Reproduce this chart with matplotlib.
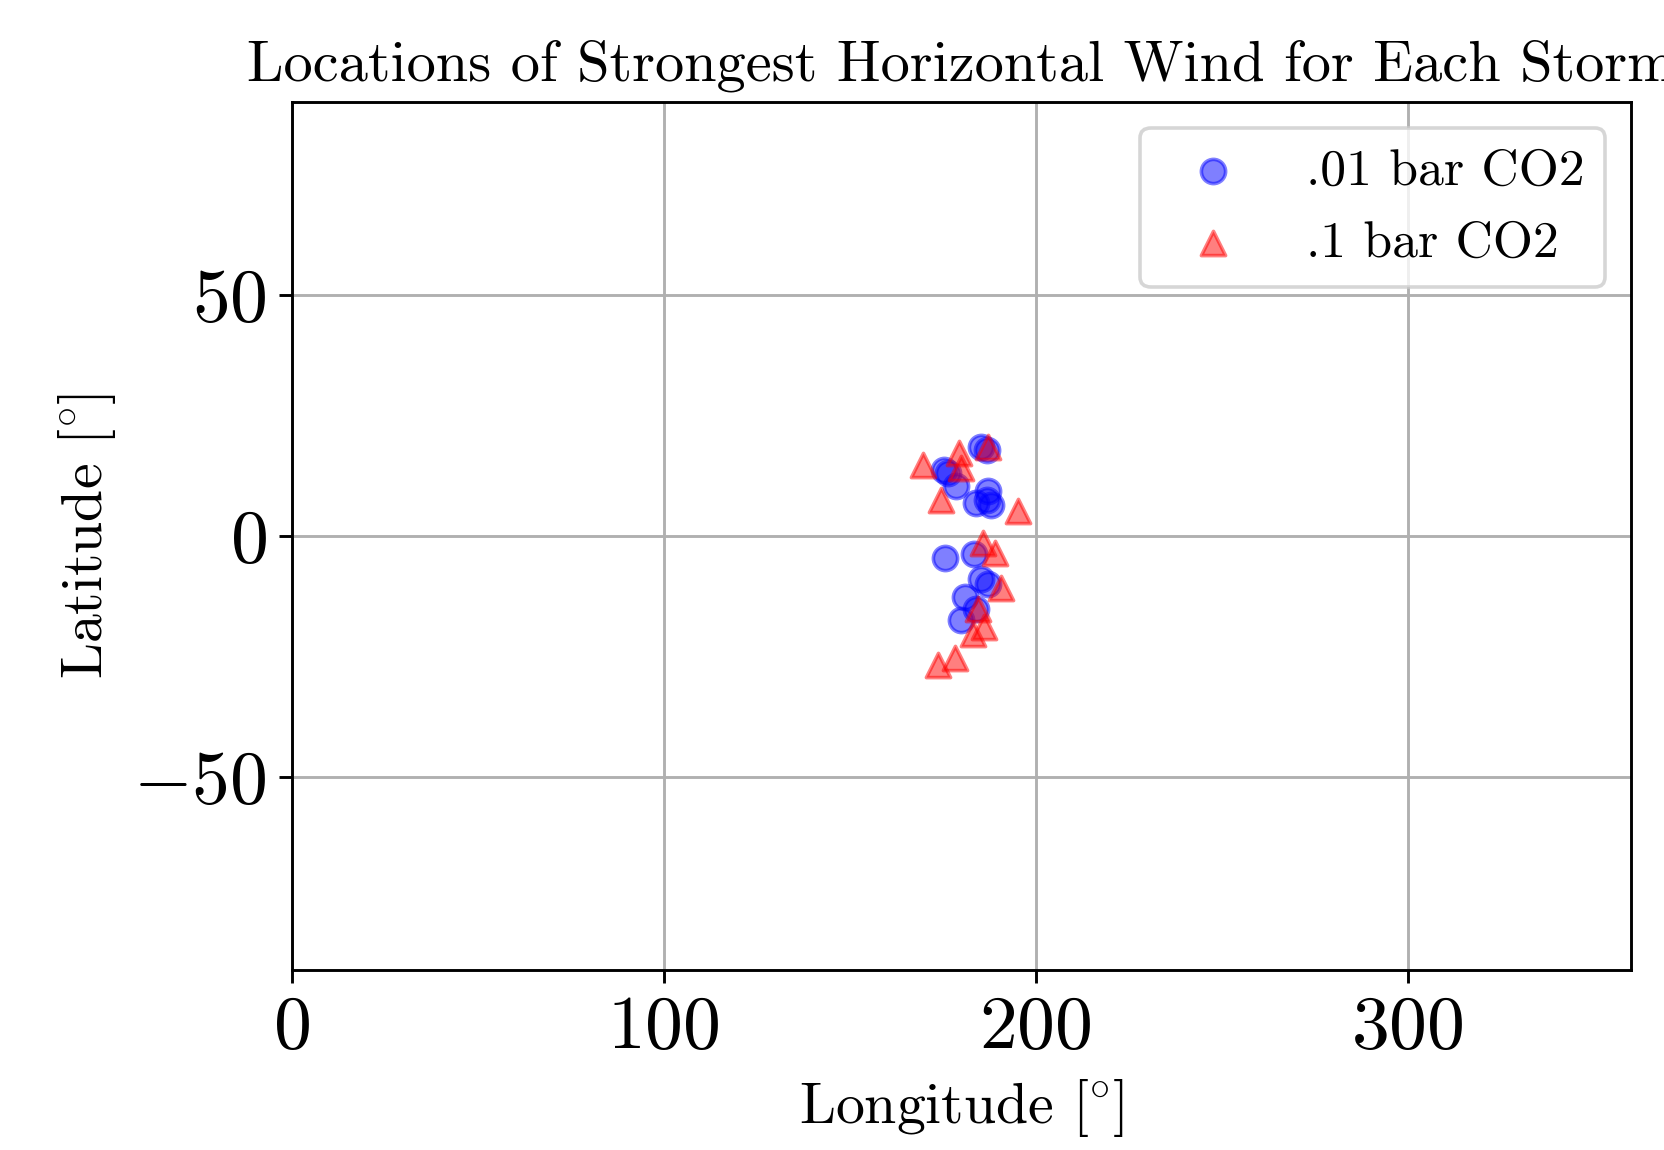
import numpy as np
import matplotlib
matplotlib.use('Agg')
import matplotlib.pyplot as plt

plt.rcParams['font.family'] = 'cmr10'
plt.rcParams['mathtext.fontset'] = 'cm'
plt.rcParams['axes.formatter.use_mathtext'] = True

# storm locations (lon, lat)
lon_01 = [185.3, 187.0, 175.5, 176.5, 178.6, 184.0, 187.1, 187.0, 188.0,
          175.7, 183.4, 185.3, 187.1, 180.9, 184.0, 180.0]
lat_01 = [18.5, 17.8, 13.7, 13.0, 10.3, 6.9, 9.3, 7.5, 6.5,
          -4.5, -3.8, -8.9, -10.0, -12.7, -15.1, -17.5]
lon_1 = [187.1, 179.5, 180.0, 169.7, 174.6, 195.2, 185.8, 189.2,
         190.7, 184.4, 186.2, 183.1, 178.2, 173.7]
lat_1 = [18.5, 17.2, 14.1, 14.8, 7.5, 5.1, -1.4, -3.5,
         -10.7, -15.1, -18.9, -20.3, -25.4, -26.8]

fig = plt.figure(figsize=(6.4, 4.4231), dpi=260)
ax = fig.add_axes([0.1753, 0.1565, 0.8047, 0.7548])

ax.scatter(lon_01, lat_01, c='blue', marker='o', s=45, alpha=0.5, label='.01 bar CO2', zorder=3)
ax.scatter(lon_1, lat_1, c='red', marker='^', s=45, alpha=0.5, label='.1 bar CO2', zorder=3)

ax.set_xlim(0, 360)
ax.set_ylim(-90, 90)
ax.set_xticks([0, 100, 200, 300])
ax.set_yticks([-50, 0, 50])
ax.tick_params(labelsize=21)
ax.grid(True)
ax.set_axisbelow(True)
ax.set_xlabel(r'Longitude $[\!^\circ\!]$', fontsize=16)
ax.set_ylabel(r'Latitude $[\!^\circ\!]$', fontsize=16)
ax.set_title('Locations of Strongest Horizontal Wind for Each Storm', fontsize=16.2)
ax.legend(loc='upper right', fontsize=14.3)

plt.savefig('out.png', dpi=260)
